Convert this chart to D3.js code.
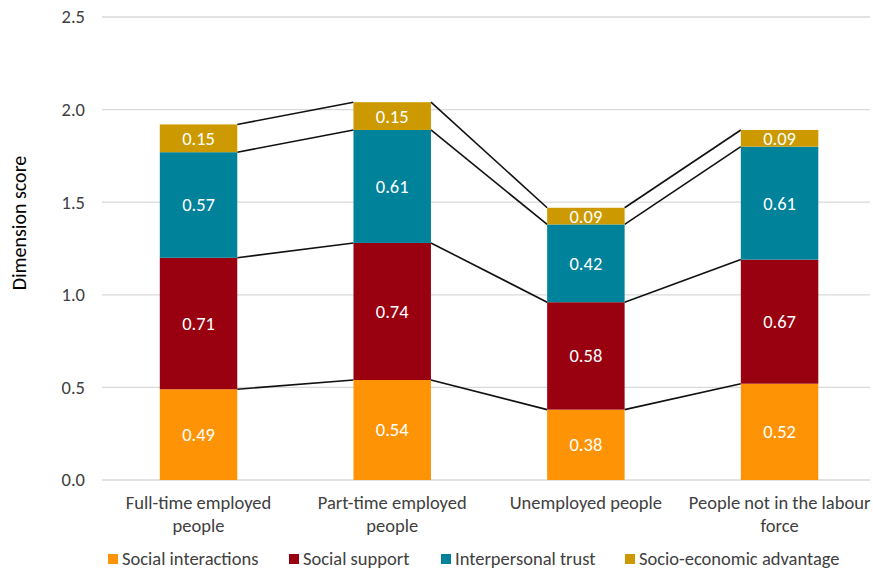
<!DOCTYPE html>
<html>
<head>
<meta charset="utf-8">
<script src="https://cdn.jsdelivr.net/npm/d3@7"></script>
<style>
  html, body { margin: 0; padding: 0; background: #fff; }
  svg text { font-family: Carlito, Lato, "Open Sans", sans-serif; }
</style>
</head>
<body>
<svg id="chart" width="873" height="572"></svg>
<script>
// Categories (with explicit line breaks for the axis labels)
const categories = [
  ["Full-time employed", "people"],
  ["Part-time employed", "people"],
  ["Unemployed people"],
  ["People not in the labour", "force"]
];
const seriesNames = ["Social interactions", "Social support", "Interpersonal trust", "Socio-economic advantage"];
const socialInteractions = [0.49, 0.54, 0.38, 0.52];
const socialSupport = [0.71, 0.74, 0.58, 0.67];
const interpersonalTrust = [0.57, 0.61, 0.42, 0.61];
const socioEconomic = [0.15, 0.15, 0.09, 0.09];
const yTicks = [0, 0.5, 1.0, 1.5, 2.0, 2.5];
const colors = ["#FF9306", "#990010", "#00829B", "#CC9A00"];

const svg = d3.select("#chart");
const W = 873, H = 572;
const plot = { left: 102, right: 870, top: 17, bottom: 480 };
const FS = 18.5;

const keys = categories.map((c, i) => i);
const x = d3.scaleBand().domain(keys).range([101.7, 876.4]).paddingInner(0.6).paddingOuter(0.3);
const y = d3.scaleLinear().domain([0, 2.5]).range([plot.bottom, plot.top]);

// Gridlines
svg.append("g").selectAll("line").data(yTicks).join("line")
  .attr("x1", plot.left).attr("x2", plot.right)
  .attr("y1", d => y(d)).attr("y2", d => y(d))
  .attr("stroke", "#d9d9d9").attr("stroke-width", 1.3);

// Y tick labels
svg.append("g").selectAll("text").data(yTicks).join("text")
  .attr("x", 85).attr("y", d => y(d)).attr("dy", "0.35em")
  .attr("text-anchor", "end").attr("font-size", FS).attr("fill", "#404040")
  .text(d => d.toFixed(1));

// Y axis title
svg.append("text")
  .attr("transform", "translate(26,223) rotate(-90)")
  .attr("text-anchor", "middle").attr("font-size", 20).attr("fill", "#000")
  .text("Dimension score");

// Stack data
const rows = keys.map(i => ({
  i,
  s0: socialInteractions[i], s1: socialSupport[i], s2: interpersonalTrust[i], s3: socioEconomic[i]
}));
const stack = d3.stack().keys(["s0", "s1", "s2", "s3"]);
const layers = stack(rows);

// Connector lines between adjacent bars at each cumulative level
const conn = svg.append("g");
layers.forEach(layer => {
  for (let k = 0; k < layer.length - 1; k++) {
    const a = layer[k], b = layer[k + 1];
    conn.append("line")
      .attr("x1", x(k) + x.bandwidth()).attr("y1", y(a[1]))
      .attr("x2", x(k + 1)).attr("y2", y(b[1]))
      .attr("stroke", "#111").attr("stroke-width", 1.6);
  }
});

// Bars
const g = svg.append("g");
layers.forEach((layer, li) => {
  g.append("g").selectAll("rect").data(layer).join("rect")
    .attr("x", (d, k) => x(k)).attr("width", x.bandwidth())
    .attr("y", d => y(d[1])).attr("height", d => y(d[0]) - y(d[1]))
    .attr("fill", colors[li]);
  g.append("g").selectAll("text").data(layer).join("text")
    .attr("x", (d, k) => x(k) + x.bandwidth() / 2)
    .attr("y", d => (y(d[0]) + y(d[1])) / 2).attr("dy", "0.35em")
    .attr("text-anchor", "middle").attr("font-size", FS).attr("fill", "#fff")
    .text(d => (d[1] - d[0]).toFixed(2));
});

// Category labels
const cat = svg.append("g");
categories.forEach((lines, i) => {
  const cx = x(i) + x.bandwidth() / 2;
  const t = cat.append("text")
    .attr("x", cx).attr("y", 509)
    .attr("text-anchor", "middle").attr("font-size", FS).attr("fill", "#404040");
  lines.forEach((ln, j) => {
    t.append("tspan").attr("x", cx).attr("dy", j === 0 ? 0 : 22.5).text(ln);
  });
});

// Legend
const legendX = [108, 289, 441, 625];
const lg = svg.append("g");
seriesNames.forEach((name, i) => {
  lg.append("rect").attr("x", legendX[i]).attr("y", 554).attr("width", 10).attr("height", 10).attr("fill", colors[i]);
  lg.append("text").attr("x", legendX[i] + 14).attr("y", 559).attr("dy", "0.35em")
    .attr("font-size", FS).attr("fill", "#404040").text(name);
});
</script>
</body>
</html>
